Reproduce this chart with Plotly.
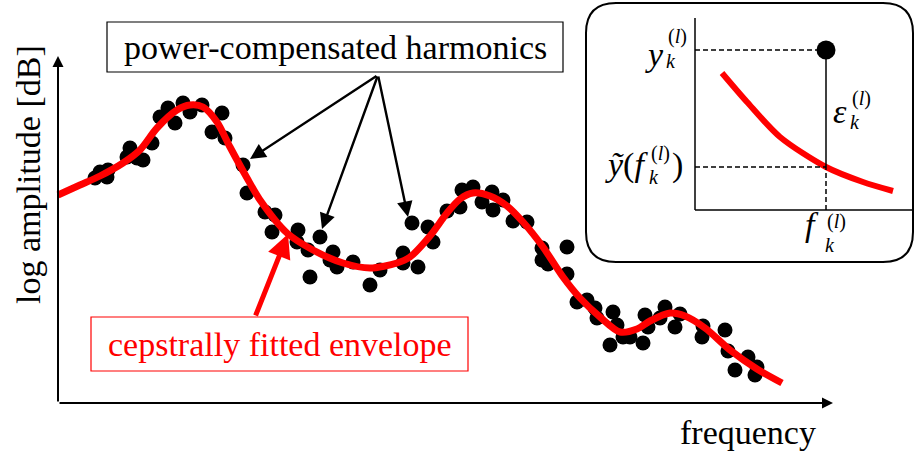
import plotly.graph_objects as go

# ---- harmonic amplitudes (frequency, log amplitude) ----
harm_freq = [95, 100, 108, 107, 130, 127, 137, 143, 152, 160, 168, 175, 183, 190, 202, 222,
             212, 225, 243, 247, 265, 275, 272, 298, 297, 308, 320, 310, 333, 330, 337, 353,
             370, 380, 403, 403, 418, 412, 428, 433, 447, 460, 462, 473, 482, 492, 493, 503,
             513, 527, 542, 542, 548, 567, 567, 577, 587, 595, 597, 613, 617, 610, 623, 630,
             645, 648, 643, 665, 660, 675, 680, 703, 702, 725, 728, 748, 735, 755, 757]
harm_amp = [274, 280, 282, 275, 304, 295, 294, 292, 309, 335, 344, 329, 349, 340, 347, 339,
            320, 314, 287, 259, 240, 237, 220, 222, 210, 202, 215, 175, 200, 192, 185, 190,
            167, 182, 199, 189, 185, 229, 225, 210, 241, 245, 262, 265, 250, 260, 242, 252,
            231, 230, 204, 192, 188, 205, 178, 150, 152, 144, 134, 140, 127, 107, 115, 115,
            137, 125, 109, 145, 134, 125, 138, 126, 115, 122, 101, 95, 82, 77, 85]

# ---- cepstrally fitted envelope ----
env_freq = [58, 80, 100, 123, 140, 157, 177, 190, 203, 217, 230, 247, 260, 287, 313, 343,
            370, 397, 410, 430, 447, 460, 473, 490, 507, 523, 543, 563, 580, 600, 620, 637,
            650, 670, 685, 705, 730, 757, 782]
env_amp = [257, 267, 276, 289, 302, 324, 342, 347, 345, 330, 305, 274, 252, 219, 202, 189,
           184, 189, 195, 216, 239, 253, 259, 256, 246, 230, 205, 175, 154, 135, 120, 123,
           131, 139, 136, 124, 102, 83, 69]

# ---- inset: one harmonic and the local envelope ----
ins_env_freq = [722, 747, 780, 826, 863, 893]
ins_env_amp = [379, 350, 315, 285, 270, 261]
ins_harm_freq = [826]
ins_harm_amp = [402]

# axis frames
X0, Y0 = 58, 49          # main origin
X_END, Y_END = 833, 396  # arrow tips
IX0, IY0, IX1, IY1 = 695, 242, 912, 434  # inset axes

RED = "#ff0000"
SERIF = "Liberation Serif"
DASH = "5px,3px"

fig = go.Figure()

fig.add_trace(go.Scatter(x=harm_freq, y=harm_amp, mode="markers",
                         marker=dict(size=15, color="black"), hoverinfo="skip"))
fig.add_trace(go.Scatter(x=env_freq, y=env_amp, mode="lines",
                         line=dict(color=RED, width=7, shape="spline", smoothing=0.8),
                         hoverinfo="skip"))
fig.add_trace(go.Scatter(x=ins_env_freq, y=ins_env_amp, mode="lines",
                         line=dict(color=RED, width=6, shape="spline", smoothing=0.8),
                         hoverinfo="skip"))
fig.add_trace(go.Scatter(x=ins_harm_freq, y=ins_harm_amp, mode="markers",
                         marker=dict(size=19, color="black"), hoverinfo="skip"))

shapes = []
# inset rounded frame
x0, x1, y0, y1, r = 586, 913, 190, 449, 30
path = (f"M {x0+r},{y1} L {x1-r},{y1} Q {x1},{y1} {x1},{y1-r} L {x1},{y0+r} "
        f"Q {x1},{y0} {x1-r},{y0} L {x0+r},{y0} Q {x0},{y0} {x0},{y0+r} "
        f"L {x0},{y1-r} Q {x0},{y1} {x0+r},{y1} Z")
shapes.append(dict(type="path", path=path, line=dict(color="black", width=2)))
# inset axes
shapes.append(dict(type="line", x0=IX0, y0=IY0, x1=IX0, y1=IY1, line=dict(color="black", width=1.5)))
shapes.append(dict(type="line", x0=IX0, y0=IY0, x1=IX1, y1=IY0, line=dict(color="black", width=1.5)))
fk, yk, yt = ins_harm_freq[0], ins_harm_amp[0], ins_env_amp[3]
shapes.append(dict(type="line", x0=IX0, y0=yk, x1=fk, y1=yk, line=dict(color="black", width=1.5, dash=DASH)))
shapes.append(dict(type="line", x0=IX0, y0=yt, x1=fk, y1=yt, line=dict(color="black", width=1.5, dash=DASH)))
shapes.append(dict(type="line", x0=fk, y0=IY0, x1=fk, y1=yt, line=dict(color="black", width=1.5, dash=DASH)))
shapes.append(dict(type="line", x0=fk, y0=yt, x1=fk, y1=yk, line=dict(color="black", width=1.5)))
# label boxes
shapes.append(dict(type="rect", x0=107, y0=380, x1=563, y1=430, line=dict(color="black", width=1.2),
                   fillcolor="white", layer="below"))
shapes.append(dict(type="rect", x0=91, y0=81, x1=468, y1=135, line=dict(color=RED, width=1.2),
                   fillcolor="white", layer="below"))

ann = []


def arrow(tip, tail, color="black", width=2.2, head=2, size=1.0):
    ann.append(dict(x=tip[0], y=tip[1], ax=tail[0], ay=tail[1], xref="x", yref="y",
                    axref="x", ayref="y", text="", showarrow=True, arrowhead=head,
                    arrowsize=size, arrowwidth=width, arrowcolor=color))


def label(x, y, text, size=34, color="black", **kw):
    ann.append(dict(x=x, y=y, xref="x", yref="y", text=text, showarrow=False,
                    font=dict(family=SERIF, size=size, color=color), **kw))


def indices(x, y_sup, y_sub, size=20):
    # superscript "(l)" stacked over subscript "k", left aligned
    label(x, y_sup, "(<i>l</i>)", size=size, xanchor="left")
    label(x - 2, y_sub, "<i>k</i>", size=size, xanchor="left")


# main axes with arrow heads
arrow((X0, Y_END), (X0, Y0), width=2, size=1.1)
arrow((X_END, Y0), (X0, Y0), width=2, size=1.1)

# pointers to harmonics
for tip in [(250, 293), (322, 223), (408, 235)]:
    arrow(tip, (378, 377), width=2.4, size=1.3)
# pointer to the envelope
arrow((288, 218), (255, 135), color=RED, width=5, size=0.95)

label(28, 277, "log amplitude [dB]", textangle=-90)
label(748, 20, "frequency")
label(335, 405, "power-compensated harmonics")
label(280, 108, "cepstrally fitted envelope", color=RED)

# inset symbols
label(654, 398, "<i>y</i>")
indices(666, 416, 391)
label(650, 287, "<i>ỹ</i>(<i>f</i>", xanchor="right")
indices(649, 299, 275)
label(677, 287, ")")
label(840, 341, "<i>ε</i>")
indices(850, 354, 330)
label(812, 228, "<i>f</i>")
indices(825, 231, 207)

fig.update_layout(
    width=916, height=452, autosize=False,
    margin=dict(l=0, r=0, t=0, b=0),
    paper_bgcolor="white", plot_bgcolor="white",
    showlegend=False,
    xaxis=dict(range=[0, 916], visible=False, fixedrange=True),
    yaxis=dict(range=[0, 452], visible=False, fixedrange=True),
    shapes=shapes, annotations=ann,
)

fig.write_html("out.html")
